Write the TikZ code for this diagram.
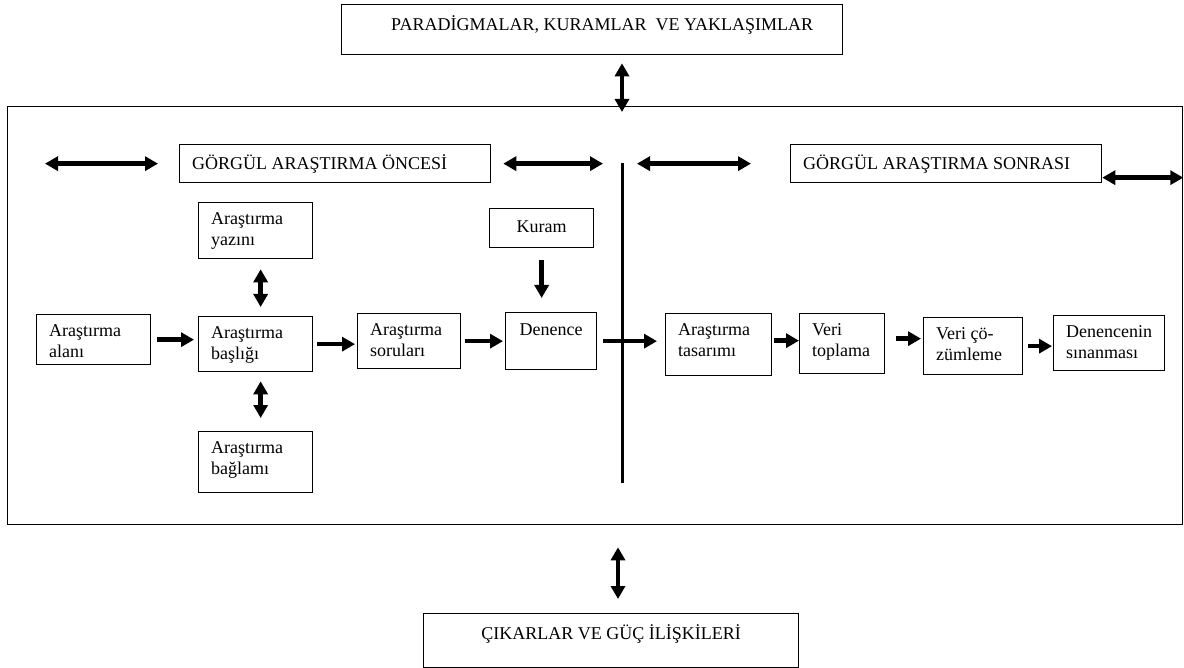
\documentclass[tikz,border=0pt]{standalone}
\usepackage{fontspec}
\setmainfont{Liberation Serif}
\usetikzlibrary{arrows.meta,calc}
\newcommand\mystrut{\rule{0pt}{17pt}}
\begin{document}
\begin{tikzpicture}[x=1pt,y=-1pt,
  box/.style={draw, line width=1.3pt, anchor=north west, inner sep=0pt},
  lt/.style={anchor=north west, inner sep=0pt, align=left, font=\fontsize{18}{21}\selectfont},
  txt/.style={lt, xshift=13pt, yshift=-5pt},
  ct/.style={anchor=north, inner sep=0pt, align=center, font=\fontsize{18}{21}\selectfont},
  arr/.style={line width=4.5pt, -{Triangle[length=13pt,width=14pt]}},
  dbl/.style={line width=4.5pt, {Triangle[length=13pt,width=14pt]}-{Triangle[length=13pt,width=14pt]}},
  divider/.style={line width=3pt}
]
\useasboundingbox (0,0) rectangle (1184,668);

% frame
\node[box, minimum width=1175pt, minimum height=418pt] (frame) at (7,106) {};

% top and bottom boxes
\node[box, minimum width=501pt, minimum height=50pt,
  label={[lt, xshift=50pt, yshift=-9pt]north west:{\mystrut PARADİGMALAR, KURAMLAR\ \ VE YAKLAŞIMLAR}}] (top) at (341,4) {};
\node[box, minimum width=375pt, minimum height=54pt,
  label={[ct, yshift=-9pt]north:{\mystrut ÇIKARLAR VE GÜÇ İLİŞKİLERİ}}] (cikar) at (423,613) {};

% phase boxes
\node[box, minimum width=311pt, minimum height=38pt,
  label={[lt, xshift=13pt, yshift=-8pt]north west:{\mystrut GÖRGÜL ARAŞTIRMA ÖNCESİ}}] (oncesi) at (179,144) {};
\node[box, minimum width=311pt, minimum height=38pt,
  label={[lt, xshift=13pt, yshift=-8pt]north west:{\mystrut GÖRGÜL ARAŞTIRMA SONRASI}}] (sonrasi) at (790,144) {};

% left part
\node[box, minimum width=114pt, minimum height=56pt,
  label={[txt]north west:{\mystrut Araştırma\\yazını}}] (yazini) at (198,202) {};
\node[box, minimum width=114pt, minimum height=50pt,
  label={[txt]north west:{\mystrut Araştırma\\alanı}}] (alan) at (36,314) {};
\node[box, minimum width=114pt, minimum height=55pt,
  label={[txt]north west:{\mystrut Araştırma\\başlığı}}] (baslik) at (198,316) {};
\node[box, minimum width=114pt, minimum height=61pt,
  label={[txt]north west:{\mystrut Araştırma\\bağlamı}}] (baglam) at (198,431) {};
\node[box, minimum width=103pt, minimum height=55pt,
  label={[txt]north west:{\mystrut Araştırma\\soruları}}] (sorular) at (357,313) {};
\node[box, minimum width=104pt, minimum height=39pt,
  label={[ct, yshift=-7pt]north:{\mystrut Kuram}}] (kuram) at (489,208) {};
\node[box, minimum width=91pt, minimum height=57pt,
  label={[ct, yshift=-6pt]north:{\mystrut Denence}}] (denence) at (505,312) {};

% right part
\node[box, minimum width=106pt, minimum height=62pt,
  label={[txt]north west:{\mystrut Araştırma\\tasarımı}}] (tasarim) at (665,313) {};
\node[box, minimum width=85pt, minimum height=60pt,
  label={[txt]north west:{\mystrut Veri\\toplama}}] (toplama) at (799,313) {};
\node[box, minimum width=99pt, minimum height=57pt,
  label={[txt]north west:{\mystrut Veri çö-\\zümleme}}] (cozum) at (923,317) {};
\node[box, minimum width=111pt, minimum height=55pt,
  label={[txt]north west:{\mystrut Denencenin\\sınanması}}] (sinama) at (1053,315) {};

% divider
\coordinate (dvtop) at (622,163);
\coordinate (dvbot) at (622,483);
\coordinate (lowx) at (618,0);
\draw[divider] (dvtop) -- (dvbot);

% vertical connectors to outer boxes
\draw[dbl, shorten <=8pt] (top.south -| dvtop) -- ([yshift=-6pt]frame.north -| dvtop);
\draw[dbl, shorten <=22pt, shorten >=14pt] (frame.south -| lowx) -- (cikar.north -| lowx);

% top row arrows
\draw[dbl] ([xshift=-134pt]oncesi.west) -- ([xshift=-21pt]oncesi.west);
\draw[dbl] ([xshift=12pt]oncesi.east) -- ([xshift=-19pt]oncesi.east -| dvtop);
\draw[dbl] ([xshift=-153pt]sonrasi.west) -- ([xshift=-39pt]sonrasi.west);
\draw[dbl] ([yshift=-14pt]sonrasi.east) -- ([yshift=-14pt]sonrasi.east -| frame.east);

% left connectors
\draw[dbl, shorten <=10pt, shorten >=9pt] ([xshift=5pt]yazini.south) -- ([xshift=5pt]baslik.north);
\draw[dbl, shorten <=9pt, shorten >=13pt] ([xshift=5pt]baslik.south) -- ([xshift=5pt]baglam.north);
\draw[arr, shorten <=6pt, shorten >=4pt] (alan.east) -- (alan.east -| baslik.west);
\draw[arr, shorten <=4pt, shorten >=2pt] (baslik.east) -- (baslik.east -| sorular.west);
\draw[arr, shorten <=4pt, shorten >=2pt] (sorular.east) -- (sorular.east -| denence.west);
\draw[arr, shorten <=12pt, shorten >=14pt] (kuram.south) -- (kuram.south |- denence.north);
\draw[arr, shorten <=6pt, shorten >=8pt] (denence.east) -- (denence.east -| tasarim.west);

% right connectors
\draw[arr, shorten <=2pt] ([yshift=4pt]tasarim.east) -- ([yshift=4pt]tasarim.east -| toplama.west);
\draw[arr, shorten <=11pt, shorten >=2pt] ([yshift=5pt]toplama.east) -- ([yshift=5pt]toplama.east -| cozum.west);
\draw[arr, shorten <=5pt, shorten >=1pt] (cozum.east) -- (cozum.east -| sinama.west);
\end{tikzpicture}
\end{document}
